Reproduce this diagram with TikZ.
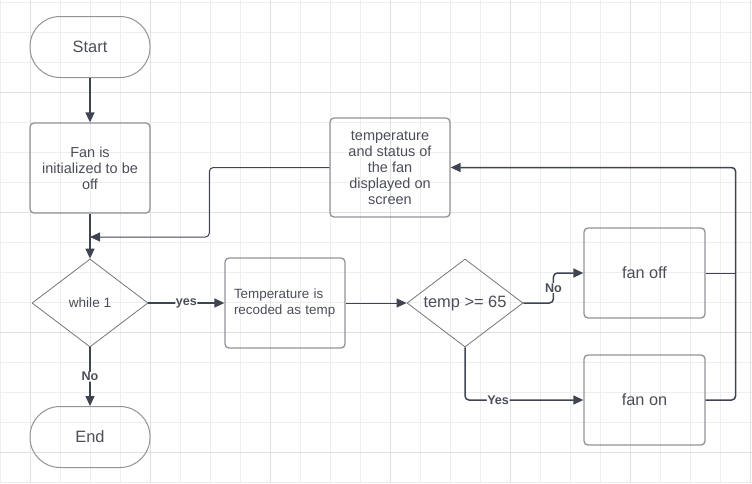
\documentclass[tikz,border=0pt]{standalone}
\usepackage{fontspec}
\setmainfont{Liberation Sans}
\usepackage{tikz}
\usetikzlibrary{shapes.geometric,arrows.meta,positioning,calc}
\definecolor{gridminor}{RGB}{238,238,238}
\definecolor{gridmajor}{RGB}{224,224,224}
\definecolor{myborder}{RGB}{144,147,152}
\definecolor{myline}{RGB}{63,68,80}
\definecolor{mytext}{RGB}{74,78,87}
\tikzstyle{terminal}=[draw=myborder,line width=1pt,rectangle,rounded corners=30pt,minimum width=120pt,minimum height=61pt,text=mytext,font=\fontsize{16.4}{18}\selectfont]
\tikzstyle{process}=[draw=myborder,line width=1.3pt,rectangle,rounded corners=4pt,minimum width=120pt,minimum height=90pt,text=mytext,align=center,font=\fontsize{14.5}{16}\selectfont]
\tikzstyle{decision}=[draw=myborder!80!black,line width=0.8pt,diamond,aspect=1.32,minimum width=116pt,minimum height=88pt,inner sep=0pt,text=mytext]
\tikzstyle{lbl}=[fill=white,inner sep=0.5pt,text=mytext,font=\bfseries\fontsize{12.6}{14}\selectfont]

\begin{document}
\begin{tikzpicture}[x=1pt,y=-1pt,>={Triangle[length=10pt,width=9pt]},every path/.style={line width=1.5pt}]
\useasboundingbox (0,0) rectangle (752,483);
% background grid
\foreach \x in {0,30,...,750} \draw[gridminor,line width=0.7pt] (\x,0) -- (\x,483);
\foreach \y in {2,32,...,482} \draw[gridminor,line width=0.7pt] (0,\y) -- (752,\y);
\foreach \x in {30,150,...,750} \draw[gridmajor,line width=0.7pt] (\x,0) -- (\x,483);
\foreach \y in {92,212,...,452} \draw[gridmajor,line width=0.7pt] (0,\y) -- (752,\y);

\node [terminal] (n1) at (90,47) {Start};
\node [process] (n2) at (90,168) {Fan is\\initialized to be\\off};
\node [decision,font=\fontsize{13.6}{15}\selectfont] (n3) at (90,303) {while 1};
\node [terminal] (n4) at (90,437) {End};
\node [process,text width=102pt,align=left,inner sep=0pt,font=\fontsize{13.4}{16}\selectfont] (n5) at (285,303) {Temperature is\\recoded as temp};
\node [process,minimum height=99pt] (n6) at (390,167.5) {temperature\\and status of\\the fan\\displayed on\\screen};
\node [decision,font=\fontsize{16.4}{18}\selectfont] (n7) at (465,303) {temp >= 65};
\node [process,minimum width=121pt,font=\fontsize{16.3}{18}\selectfont] (n8) at (644.5,273) {fan off};
\node [process,minimum width=121pt,font=\fontsize{16.3}{18}\selectfont] (n9) at (644.5,400) {fan on};
\coordinate (j1) at (90,237);

\begin{scope}[myline,rounded corners=4pt]
\draw[->] (n1) -- (n2);
\draw[->] (n2) -- (n3);
\draw[->, line width=1pt] (n6.west) -- ++(-120,0) |- (j1);
\draw[->] (n3) -- node [lbl] {yes} (n5);
\draw[->] (n3) -- node [lbl] {No} (n4);
\draw[->, line width=1pt] (n5) -- (n7);
\draw[->] (n7.east) -- ++(30,0) |- node [lbl,pos=0.25] {No} (n8);
\draw[->] (n7.south) |- node [lbl,pos=0.64] {Yes} (n9);
\draw[line width=1pt] (n8.east) -- ++(30,0);
\draw[->] (n9.east) -- ++(30,0) |- (n6.east);
\end{scope}
\end{tikzpicture}
\end{document}
